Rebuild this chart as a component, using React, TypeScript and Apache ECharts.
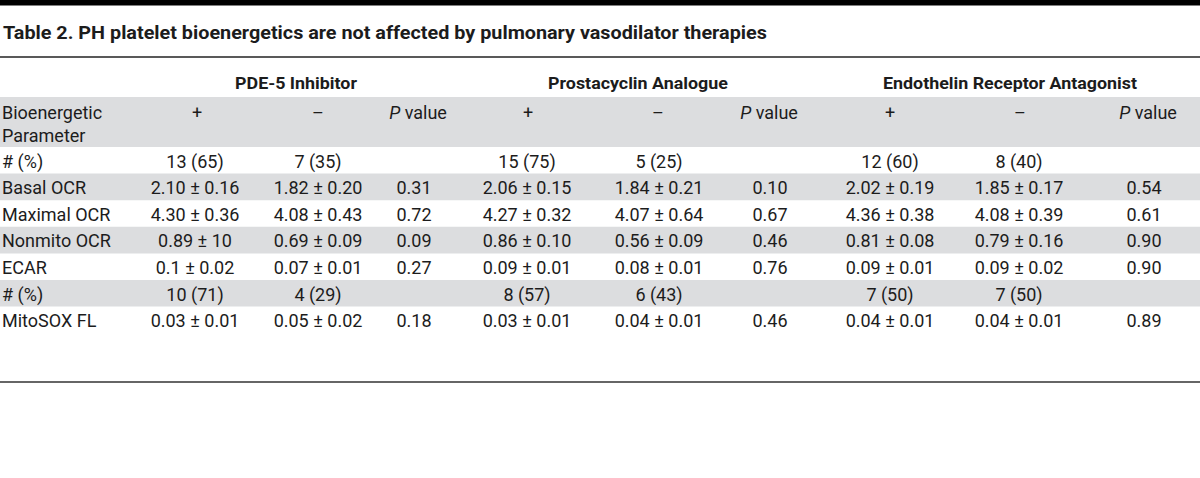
import React, { useEffect, useRef } from "react";
import * as echarts from "echarts";

// ---- table content ----
const titleText = "Table 2. PH platelet bioenergetics are not affected by pulmonary vasodilator therapies";
const groups = ["PDE-5 Inhibitor", "Prostacyclin Analogue", "Endothelin Receptor Antagonist"];
const subHeaders = ["+", "–", "{i|P} value"];
const stubHeader = ["Bioenergetic", "Parameter"];
const rowLabels = ["# (%)", "Basal OCR", "Maximal OCR", "Nonmito OCR", "ECAR", "# (%)", "MitoSOX FL"];

const pde5Plus = ["13 (65)", "2.10 ± 0.16", "4.30 ± 0.36", "0.89 ± 10", "0.1 ± 0.02", "10 (71)", "0.03 ± 0.01"];
const pde5Minus = ["7 (35)", "1.82 ± 0.20", "4.08 ± 0.43", "0.69 ± 0.09", "0.07 ± 0.01", "4 (29)", "0.05 ± 0.02"];
const pde5P = ["", "0.31", "0.72", "0.09", "0.27", "", "0.18"];
const prostaPlus = ["15 (75)", "2.06 ± 0.15", "4.27 ± 0.32", "0.86 ± 0.10", "0.09 ± 0.01", "8 (57)", "0.03 ± 0.01"];
const prostaMinus = ["5 (25)", "1.84 ± 0.21", "4.07 ± 0.64", "0.56 ± 0.09", "0.08 ± 0.01", "6 (43)", "0.04 ± 0.01"];
const prostaP = ["", "0.10", "0.67", "0.46", "0.76", "", "0.46"];
const endoPlus = ["12 (60)", "2.02 ± 0.19", "4.36 ± 0.38", "0.81 ± 0.08", "0.09 ± 0.01", "7 (50)", "0.04 ± 0.01"];
const endoMinus = ["8 (40)", "1.85 ± 0.17", "4.08 ± 0.39", "0.79 ± 0.16", "0.09 ± 0.02", "7 (50)", "0.04 ± 0.01"];
const endoP = ["", "0.54", "0.61", "0.90", "0.90", "", "0.89"];

const dataColumns = [pde5Plus, pde5Minus, pde5P, prostaPlus, prostaMinus, prostaP, endoPlus, endoMinus, endoP];
const shadedRows = [1, 3, 5];

// ---- layout (pixel coordinates on a 1200 x 478 value scale) ----
const W = 1200;
const H = 478;
const colX = [195, 318, 414, 527, 659, 770, 890, 1019, 1144];
const headerColX = [197, 318, 418, 528, 658, 769, 890, 1020, 1148];
const groupX = [296, 638, 1010];
const labelX = 2;
const titleY = 33;
const groupY = 83;
const headerY = [112, 135];
const headerBand = [97, 147];
const rowTop0 = 147;
const rowH = 26.6;
const topBarH = 5.5;
const titleRuleY = 57;
const bottomRuleY = 382;

const FONT = "Roboto, 'Noto Sans', sans-serif";
const INK = "#1c1c1c";
const SHADE = "#dcdddf";

type Cell = { x: number; y: number; text: string; size: number; bold?: boolean; align: string; sx?: number; rich?: boolean };

function buildCells(): Cell[] {
  const cells: Cell[] = [];
  cells.push({ x: 3, y: titleY, text: titleText, size: 18, bold: true, align: "left", sx: 1.1 });
  groups.forEach((g, i) => cells.push({ x: groupX[i], y: groupY, text: g, size: 17, bold: true, align: "center", sx: 1.05 }));
  stubHeader.forEach((t, i) => cells.push({ x: labelX, y: headerY[i], text: t, size: 18, align: "left" }));
  for (let g = 0; g < 3; g++) {
    subHeaders.forEach((t, j) =>
      cells.push({ x: headerColX[g * 3 + j], y: headerY[0], text: t, size: 18, align: "center", rich: j === 2 })
    );
  }
  rowLabels.forEach((lab, r) => {
    const cy = rowTop0 + rowH * r + rowH / 2 + 0.8;
    cells.push({ x: labelX, y: cy, text: lab, size: 18, align: "left" });
    dataColumns.forEach((col, c) => {
      if (col[r]) cells.push({ x: colX[c], y: cy, text: col[r], size: 18, align: "center" });
    });
  });
  return cells;
}

export default function App() {
  const ref = useRef<HTMLDivElement>(null);
  useEffect(() => {
    document.body.style.margin = "0";
    if (!ref.current) return;
    const chart = echarts.init(ref.current, undefined, { renderer: "svg" });
    const cells = buildCells();
    const bands: number[][] = [headerBand, ...shadedRows.map((r) => [rowTop0 + rowH * r, rowTop0 + rowH * (r + 1)])];
    const rules: number[][] = [
      [0, topBarH],
      [titleRuleY - 0.75, titleRuleY + 0.75],
      [bottomRuleY - 0.75, bottomRuleY + 0.75],
    ];
    const ruleColors = ["#000000", "#222222", "#333333"];

    chart.setOption({
      animation: false,
      backgroundColor: "#ffffff",
      grid: { left: 0, right: 0, top: 0, bottom: 0 },
      xAxis: { type: "value", min: 0, max: W, show: false },
      yAxis: { type: "value", min: 0, max: H, inverse: true, show: false },
      series: [
        {
          type: "custom",
          clip: false,
          silent: true,
          data: bands,
          renderItem: (_p: any, api: any) => {
            const a = api.coord([0, api.value(0)]);
            const b = api.coord([W, api.value(1)]);
            return { type: "rect", shape: { x: a[0], y: a[1], width: b[0] - a[0], height: b[1] - a[1] }, style: { fill: SHADE } };
          },
        },
        {
          type: "custom",
          clip: false,
          silent: true,
          data: rules,
          renderItem: (p: any, api: any) => {
            const a = api.coord([0, api.value(0)]);
            const b = api.coord([W, api.value(1)]);
            return { type: "rect", shape: { x: a[0], y: a[1], width: b[0] - a[0], height: b[1] - a[1] }, style: { fill: ruleColors[p.dataIndex] } };
          },
        },
        {
          type: "custom",
          clip: false,
          silent: true,
          data: cells.map((c) => [c.x, c.y]),
          renderItem: (p: any, api: any) => {
            const c = cells[p.dataIndex];
            const pt = api.coord([api.value(0), api.value(1)]);
            const weight = c.bold ? "bold" : "normal";
            const style: any = {
              text: c.text,
              fill: INK,
              fontSize: c.size,
              fontFamily: FONT,
              fontWeight: weight,
              align: c.align,
              verticalAlign: "middle",
              textAlign: c.align,
              textVerticalAlign: "middle",
            };
            if (c.rich) {
              style.rich = {
                i: { fontStyle: "italic", fontSize: c.size, fontFamily: FONT, fill: INK },
              };
            }
            return { type: "text", x: pt[0], y: pt[1], scaleX: c.sx ?? 1, style };
          },
        },
      ],
    });
    return () => chart.dispose();
  }, []);
  return <div ref={ref} style={{ width: W, height: H }} />;
}
